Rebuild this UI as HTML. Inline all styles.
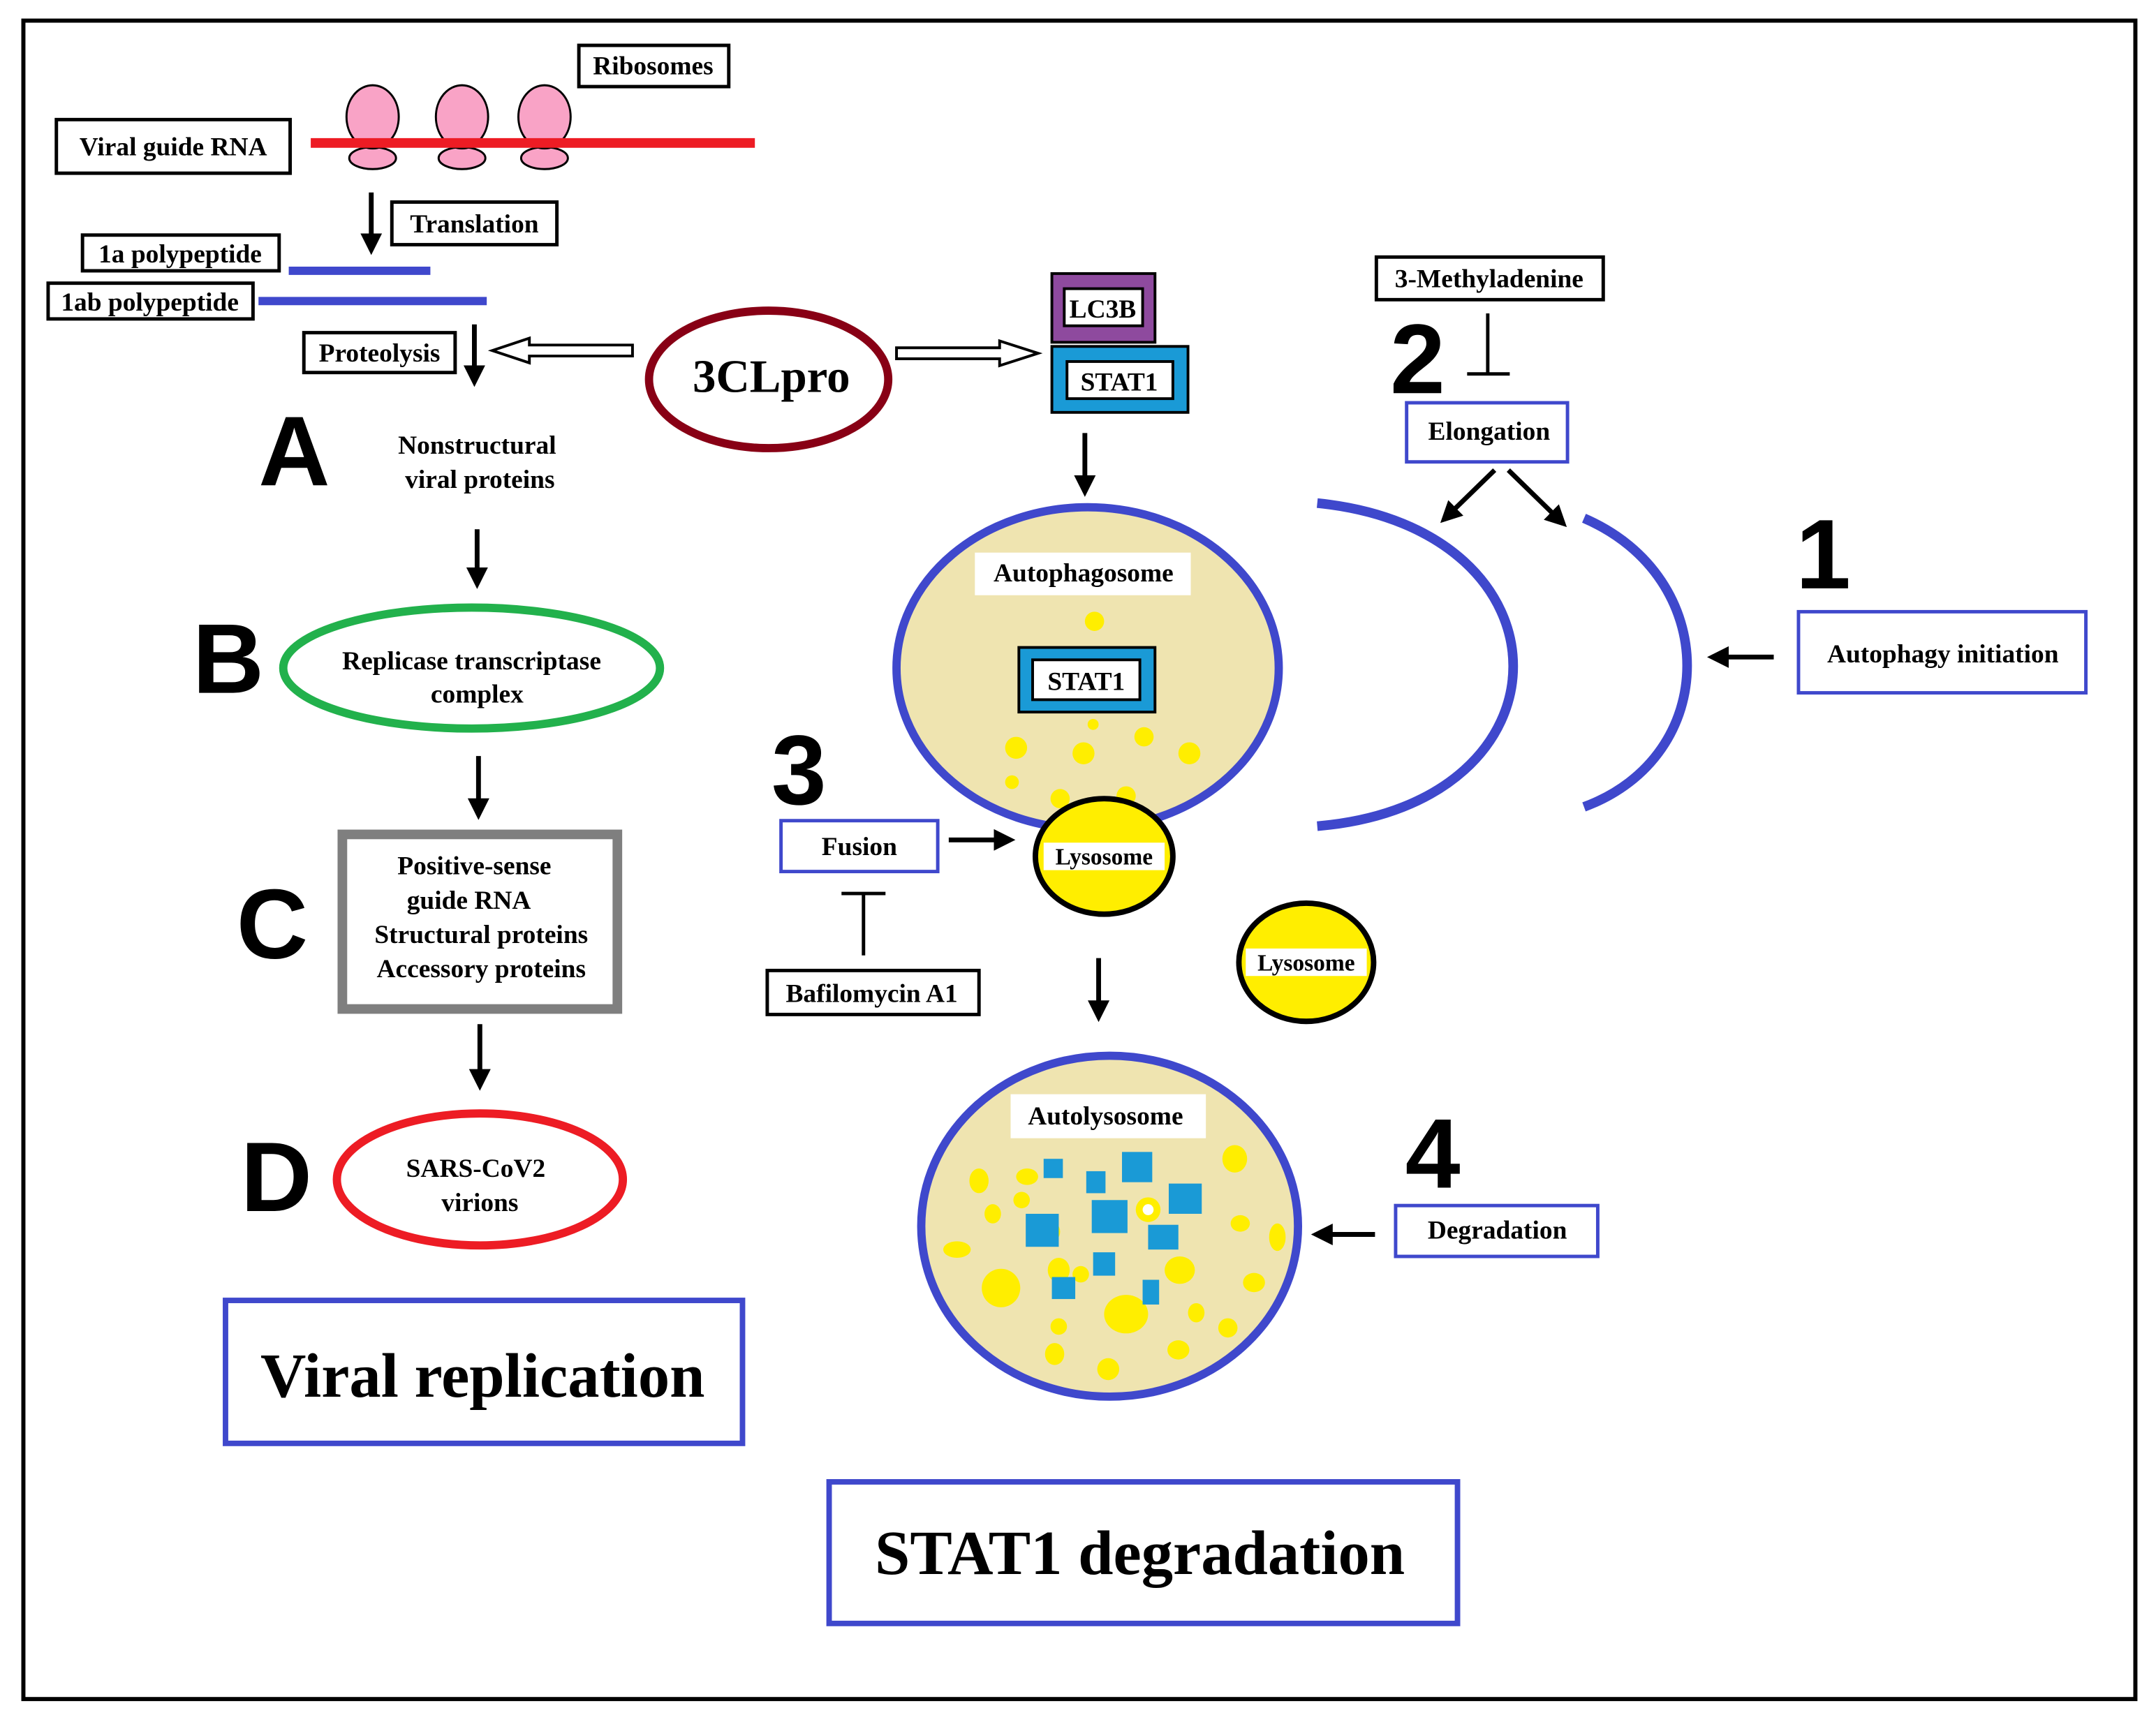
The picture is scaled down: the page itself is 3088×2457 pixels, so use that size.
<!DOCTYPE html>
<html><head><meta charset="utf-8"><style>
html,body{margin:0;padding:0;background:#fff}
svg{display:block}
.t{font-family:"Liberation Serif",serif;font-weight:bold;font-size:19px;fill:#000}
.big{font-family:"Liberation Sans",sans-serif;font-weight:bold;font-size:72px;fill:#000;letter-spacing:-2px}
</style></head><body>
<svg width="3088" height="2457" viewBox="0 0 1568 1247.6" xmlns="http://www.w3.org/2000/svg">
<defs>
<marker id="ah" markerWidth="4.5" markerHeight="4.5" refX="3.5" refY="2.25" orient="auto" markerUnits="strokeWidth">
<path d="M0,0 L4.5,2.25 L0,4.5 z" fill="#000"/></marker>
</defs>
<rect x="0" y="0" width="1568" height="1248" fill="#fff"/>
<rect x="17" y="15" width="1536" height="1221" fill="none" stroke="#000" stroke-width="3"/>

<rect x="421" y="33" width="109" height="30" fill="#fff" stroke="#000" stroke-width="2.5"/>
<text class="t" x="475" y="54" text-anchor="middle">Ribosomes</text>
<g fill="#f9a3c6" stroke="#000" stroke-width="1.5">
<ellipse cx="271" cy="115" rx="17" ry="8"/><ellipse cx="336" cy="115" rx="17" ry="8"/><ellipse cx="396" cy="115" rx="17" ry="8"/>
<ellipse cx="271" cy="85" rx="19" ry="23"/><ellipse cx="336" cy="85" rx="19" ry="23"/><ellipse cx="396" cy="85" rx="19" ry="23"/>
</g>
<line x1="226" y1="104" x2="549" y2="104" stroke="#ed1c24" stroke-width="7"/>
<rect x="41" y="87" width="170" height="39" fill="#fff" stroke="#000" stroke-width="2.5"/>
<text class="t" x="126" y="113" text-anchor="middle">Viral guide RNA</text>

<g stroke="#000" stroke-width="3.5">
<line x1="270" y1="140" x2="270" y2="182" marker-end="url(#ah)"/>
<line x1="345" y1="236" x2="345" y2="278" marker-end="url(#ah)"/>
<line x1="789" y1="315" x2="789" y2="358" marker-end="url(#ah)"/>
<line x1="347" y1="385" x2="347" y2="425" marker-end="url(#ah)"/>
<line x1="348" y1="550" x2="348" y2="593" marker-end="url(#ah)"/>
<line x1="349" y1="745" x2="349" y2="790" marker-end="url(#ah)"/>
<line x1="1290" y1="478" x2="1245" y2="478" marker-end="url(#ah)"/>
<line x1="1087" y1="342" x2="1050" y2="378" marker-end="url(#ah)"/>
<line x1="1097" y1="342" x2="1137" y2="381" marker-end="url(#ah)"/>
<line x1="690" y1="611" x2="735" y2="611" marker-end="url(#ah)"/>
<line x1="799" y1="697" x2="799" y2="740" marker-end="url(#ah)"/>
<line x1="1000" y1="898" x2="957" y2="898" marker-end="url(#ah)"/>
</g>

<rect x="285" y="147" width="120" height="31" fill="#fff" stroke="#000" stroke-width="2.5"/>
<text class="t" x="345" y="169" text-anchor="middle">Translation</text>
<rect x="60" y="171" width="143" height="26" fill="#fff" stroke="#000" stroke-width="2.5"/>
<text class="t" x="131" y="191" text-anchor="middle">1a polypeptide</text>
<line x1="210" y1="197" x2="313" y2="197" stroke="#3f48cc" stroke-width="6"/>
<rect x="35" y="206" width="149" height="26" fill="#fff" stroke="#000" stroke-width="2.5"/>
<text class="t" x="109" y="226" text-anchor="middle">1ab polypeptide</text>
<line x1="188" y1="219" x2="354" y2="219" stroke="#3f48cc" stroke-width="6"/>
<rect x="221" y="242" width="110" height="29" fill="#fff" stroke="#000" stroke-width="2.5"/>
<text class="t" x="276" y="263" text-anchor="middle">Proteolysis</text>

<path d="M460,251 L385,251 L385,246 L358,255 L385,264 L385,259 L460,259 Z" fill="#fff" stroke="#000" stroke-width="2"/>
<path d="M652,253 L727,253 L727,248 L755,257 L727,266 L727,261 L652,261 Z" fill="#fff" stroke="#000" stroke-width="2"/>
<ellipse cx="559" cy="276" rx="87" ry="50" fill="#fff" stroke="#880015" stroke-width="6"/>
<text x="561" y="285" text-anchor="middle" style="font-family:'Liberation Serif',serif;font-weight:bold;font-size:34px">3CLpro</text>

<rect x="765" y="199" width="75" height="50" fill="#8e4a9e" stroke="#000" stroke-width="2"/>
<rect x="774" y="210" width="57" height="27" fill="#fff" stroke="#000" stroke-width="2"/>
<text class="t" x="802" y="231" text-anchor="middle">LC3B</text>
<rect x="765" y="252" width="99" height="48" fill="#1a9ad6" stroke="#000" stroke-width="2"/>
<rect x="776" y="263" width="77" height="27" fill="#fff" stroke="#000" stroke-width="2"/>
<text class="t" x="814" y="284" text-anchor="middle">STAT1</text>

<text class="big" x="188" y="353">A</text>
<text class="t" x="347" y="330" text-anchor="middle">Nonstructural</text>
<text class="t" x="349" y="355" text-anchor="middle">viral proteins</text>
<text class="big" x="140" y="504">B</text>
<ellipse cx="343" cy="486" rx="137" ry="44" fill="#fff" stroke="#22b14c" stroke-width="6"/>
<text class="t" x="343" y="487" text-anchor="middle">Replicase transcriptase</text>
<text class="t" x="347" y="511" text-anchor="middle">complex</text>
<text class="big" x="172" y="697">C</text>
<rect x="249" y="607" width="200" height="127" fill="#fff" stroke="#7f7f7f" stroke-width="7"/>
<text class="t" x="345" y="636" text-anchor="middle">Positive-sense</text>
<text class="t" x="341" y="661" text-anchor="middle">guide RNA</text>
<text class="t" x="350" y="686" text-anchor="middle">Structural proteins</text>
<text class="t" x="350" y="711" text-anchor="middle">Accessory proteins</text>
<text class="big" x="175" y="881">D</text>
<ellipse cx="349" cy="858" rx="104" ry="48" fill="#fff" stroke="#ed1c24" stroke-width="6"/>
<text class="t" x="346" y="856" text-anchor="middle">SARS-CoV2</text>
<text class="t" x="349" y="881" text-anchor="middle">virions</text>
<rect x="164" y="946" width="376" height="104" fill="#fff" stroke="#3f48cc" stroke-width="4"/>
<text x="351" y="1016" text-anchor="middle" style="font-family:'Liberation Serif',serif;font-weight:bold;font-size:46px">Viral replication</text>

<rect x="1001" y="187" width="165" height="31" fill="#fff" stroke="#000" stroke-width="2.5"/>
<text class="t" x="1083" y="209" text-anchor="middle">3-Methyladenine</text>
<line x1="1082" y1="228" x2="1082" y2="272" stroke="#000" stroke-width="2.5"/>
<line x1="1067" y1="272" x2="1098" y2="272" stroke="#000" stroke-width="2.5"/>
<text class="big" x="1011" y="286">2</text>
<rect x="1023" y="293" width="117" height="43" fill="#fff" stroke="#3f48cc" stroke-width="2.5"/>
<text class="t" x="1083" y="320" text-anchor="middle">Elongation</text>
<path d="M958,366 C1148,385 1148,585 958,601" fill="none" stroke="#3f48cc" stroke-width="7"/>
<path d="M1152,377 C1252,420 1252,550 1152,587" fill="none" stroke="#3f48cc" stroke-width="7"/>
<text class="big" x="1306" y="428">1</text>
<rect x="1308" y="445" width="209" height="59" fill="#fff" stroke="#3f48cc" stroke-width="2.5"/>
<text class="t" x="1413" y="482" text-anchor="middle">Autophagy initiation</text>

<ellipse cx="791" cy="486" rx="139" ry="117" fill="#efe4b0" stroke="#3f48cc" stroke-width="6"/>
<rect x="709" y="402" width="157" height="31" fill="#fff"/>
<text class="t" x="788" y="423" text-anchor="middle">Autophagosome</text>
<g fill="#ffee00">
<circle cx="796" cy="452" r="7"/><circle cx="739" cy="544" r="8"/><circle cx="788" cy="548" r="8"/><circle cx="832" cy="536" r="7"/>
<circle cx="865" cy="548" r="8"/><circle cx="736" cy="569" r="5"/><circle cx="771" cy="581" r="7"/><circle cx="819" cy="579" r="7"/>
<circle cx="796" cy="590" r="6"/><circle cx="795" cy="527" r="4"/>
</g>
<rect x="741" y="471" width="99" height="47" fill="#1a9ad6" stroke="#000" stroke-width="2"/>
<rect x="751" y="480" width="78" height="29" fill="#fff" stroke="#000" stroke-width="2"/>
<text class="t" x="790" y="502" text-anchor="middle">STAT1</text>
<ellipse cx="803" cy="623" rx="50" ry="42" fill="#ffee00" stroke="#000" stroke-width="4"/>
<rect x="759" y="613" width="88" height="20" fill="#fff"/>
<text x="803" y="629" text-anchor="middle" style="font-family:'Liberation Serif',serif;font-weight:bold;font-size:17px">Lysosome</text>

<text class="big" x="561" y="585">3</text>
<rect x="568" y="597" width="114" height="37" fill="#fff" stroke="#3f48cc" stroke-width="2.5"/>
<text class="t" x="625" y="622" text-anchor="middle">Fusion</text>
<line x1="628" y1="695" x2="628" y2="650" stroke="#000" stroke-width="2.5"/>
<line x1="612" y1="650" x2="644" y2="650" stroke="#000" stroke-width="2.5"/>
<rect x="558" y="706" width="154" height="32" fill="#fff" stroke="#000" stroke-width="2.5"/>
<text class="t" x="634" y="729" text-anchor="middle">Bafilomycin A1</text>

<ellipse cx="950" cy="700" rx="49" ry="43" fill="#ffee00" stroke="#000" stroke-width="4"/>
<rect x="906" y="690" width="88" height="20" fill="#fff"/>
<text x="950" y="706" text-anchor="middle" style="font-family:'Liberation Serif',serif;font-weight:bold;font-size:17px">Lysosome</text>

<ellipse cx="807" cy="892" rx="137" ry="124" fill="#efe4b0" stroke="#3f48cc" stroke-width="6"/>
<g fill="#ffee00">
<ellipse cx="712" cy="859" rx="7" ry="9"/><ellipse cx="722" cy="883" rx="6" ry="7"/><ellipse cx="696" cy="909" rx="10" ry="6"/>
<ellipse cx="728" cy="937" rx="14" ry="14"/><ellipse cx="763" cy="896" rx="8" ry="8"/><ellipse cx="770" cy="924" rx="8" ry="9"/>
<ellipse cx="819" cy="956" rx="16" ry="14"/><ellipse cx="858" cy="924" rx="11" ry="10"/><ellipse cx="898" cy="843" rx="9" ry="10"/>
<ellipse cx="902" cy="890" rx="7" ry="6"/><ellipse cx="929" cy="900" rx="6" ry="10"/><ellipse cx="912" cy="933" rx="8" ry="7"/>
<ellipse cx="893" cy="966" rx="7" ry="7"/><ellipse cx="857" cy="982" rx="8" ry="7"/><ellipse cx="806" cy="996" rx="8" ry="8"/>
<ellipse cx="767" cy="985" rx="7" ry="8"/><ellipse cx="747" cy="856" rx="8" ry="6"/><ellipse cx="770" cy="965" rx="6" ry="6"/>
<ellipse cx="870" cy="955" rx="6" ry="7"/><ellipse cx="835" cy="880" rx="9" ry="9"/><ellipse cx="743" cy="873" rx="6" ry="6"/>
<ellipse cx="786" cy="927" rx="6" ry="6"/>
</g>
<circle cx="835" cy="880" r="4" fill="#fff"/>
<g fill="#1a9ad6">
<rect x="759" y="843" width="14" height="14"/><rect x="790" y="852" width="14" height="16"/><rect x="816" y="838" width="22" height="22"/>
<rect x="850" y="861" width="24" height="22"/><rect x="794" y="873" width="26" height="24"/><rect x="746" y="883" width="24" height="24"/>
<rect x="835" y="891" width="22" height="18"/><rect x="795" y="911" width="16" height="17"/><rect x="765" y="929" width="17" height="16"/>
<rect x="831" y="931" width="12" height="18"/>
</g>
<rect x="735" y="796" width="142" height="32" fill="#fff"/>
<text class="t" x="804" y="818" text-anchor="middle">Autolysosome</text>

<text class="big" x="1022" y="864">4</text>
<rect x="1015" y="877" width="147" height="37" fill="#fff" stroke="#3f48cc" stroke-width="2.5"/>
<text class="t" x="1089" y="901" text-anchor="middle">Degradation</text>

<rect x="603" y="1078" width="457" height="103" fill="#fff" stroke="#3f48cc" stroke-width="4"/>
<text x="829" y="1145" text-anchor="middle" style="font-family:'Liberation Serif',serif;font-weight:bold;font-size:46px">STAT1 degradation</text>
</svg>
</body></html>
